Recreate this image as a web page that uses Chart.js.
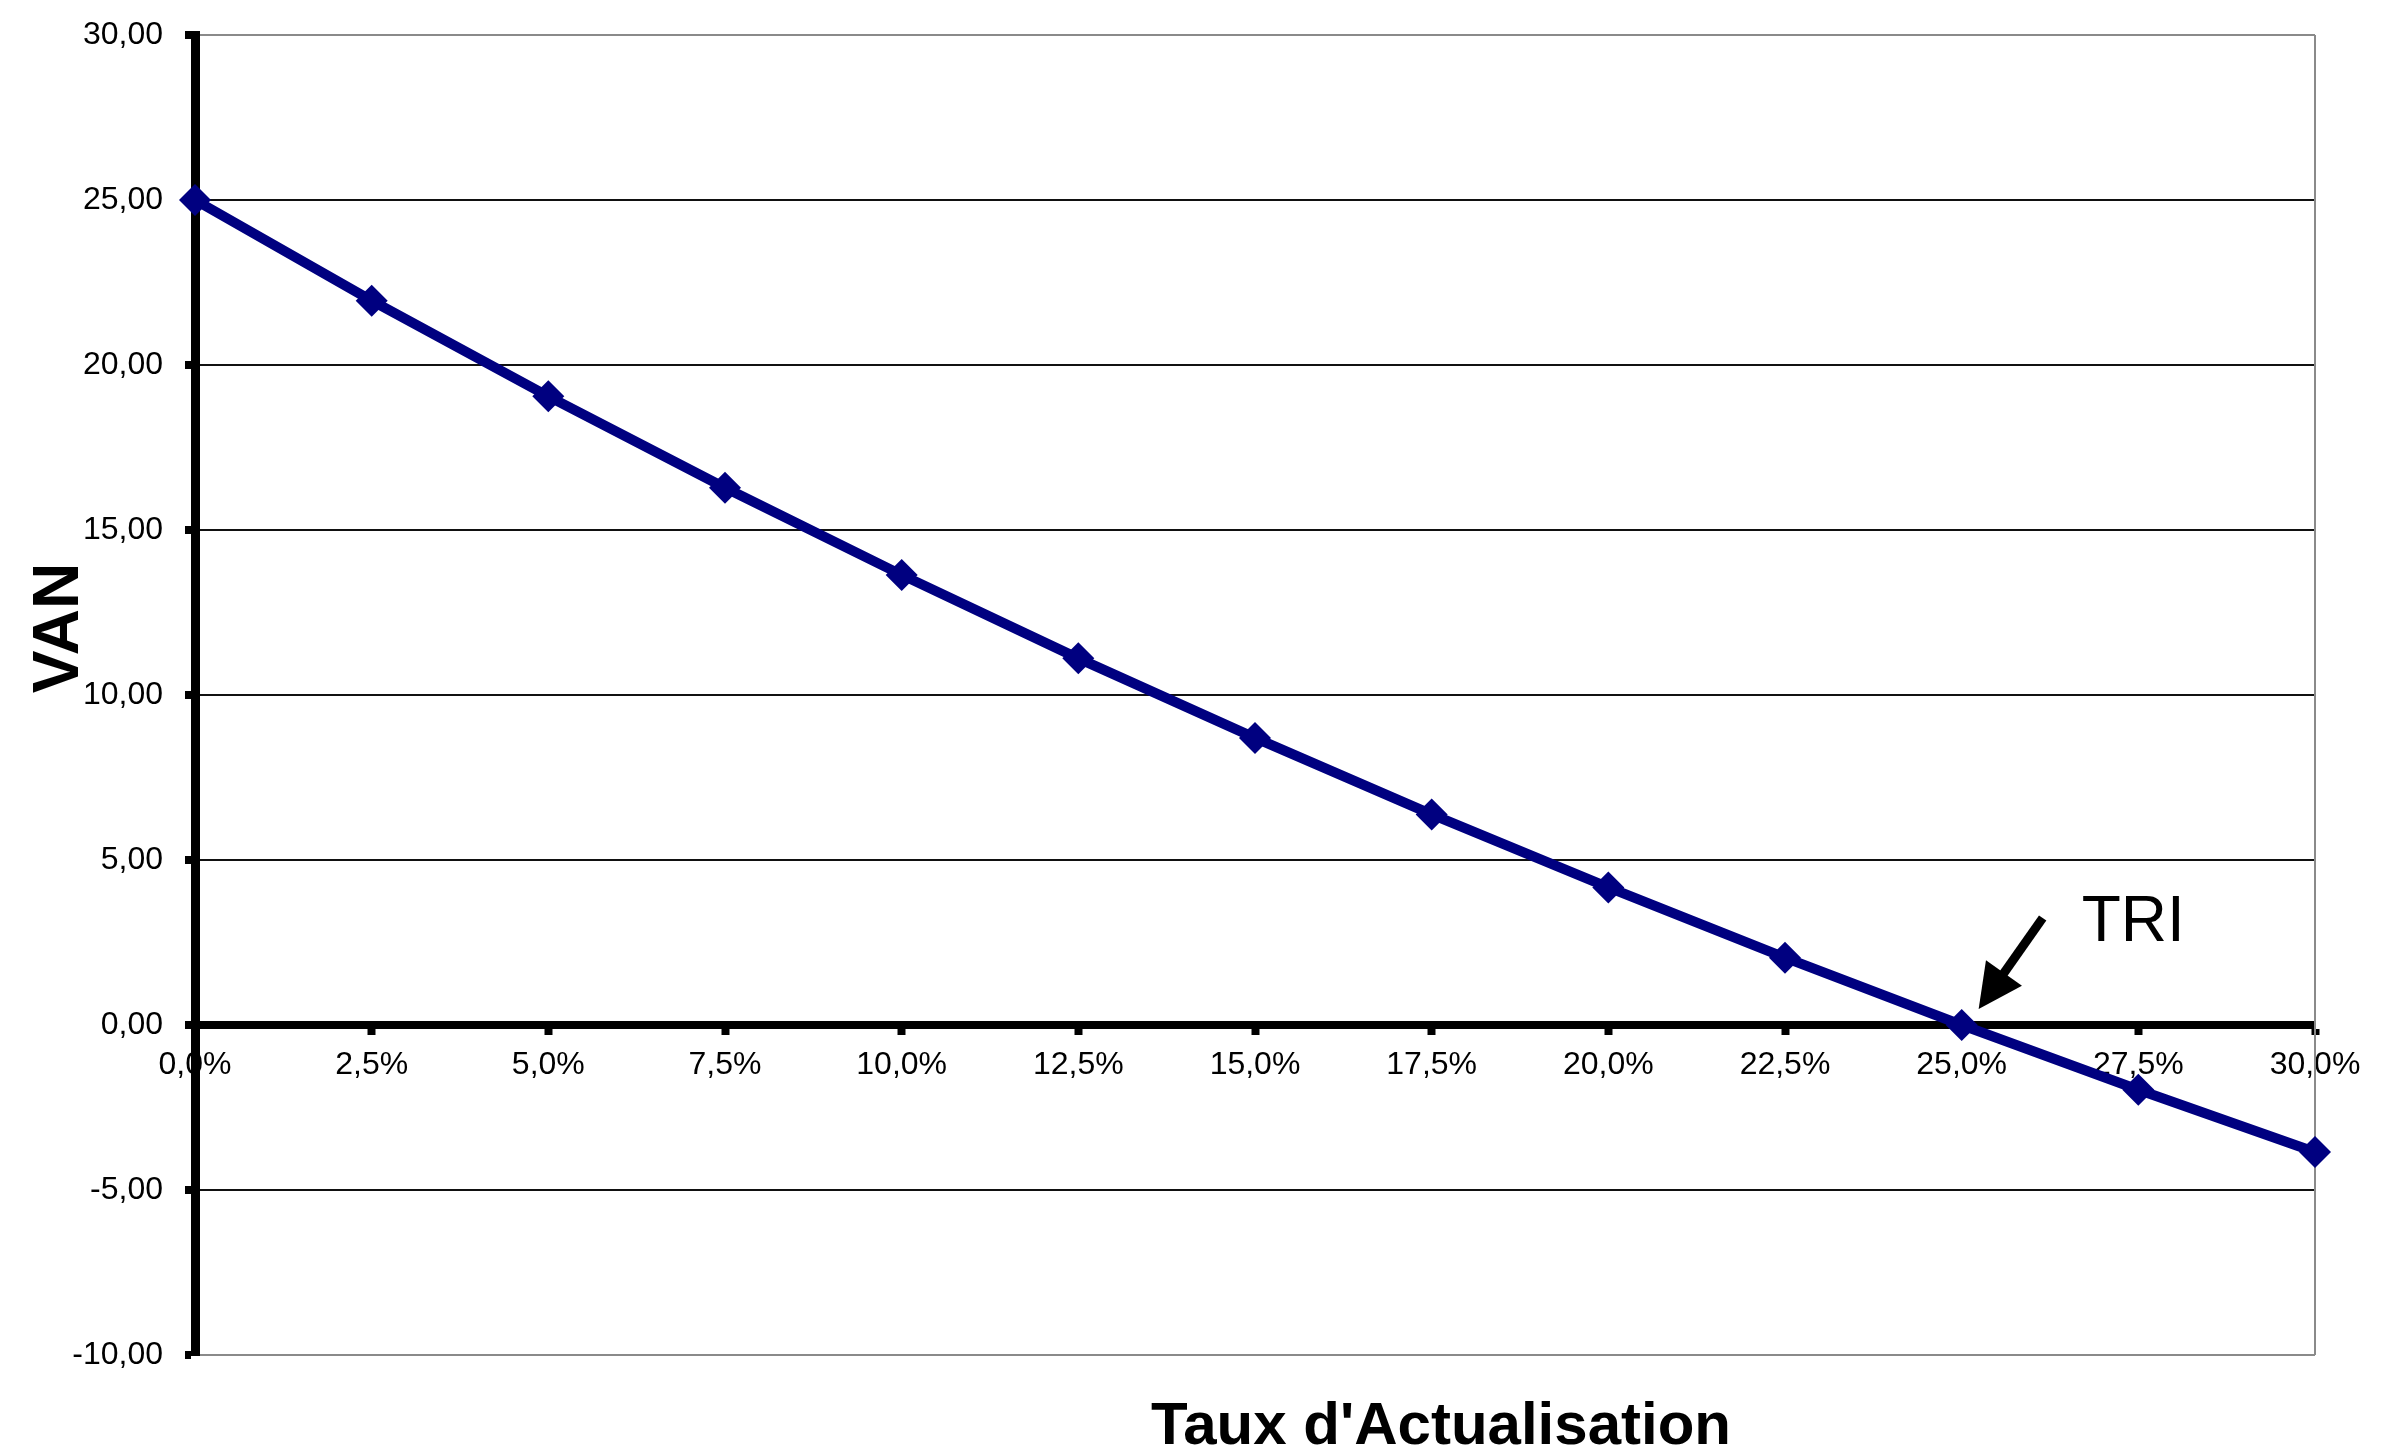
<!DOCTYPE html>
<html>
<head>
<meta charset="utf-8">
<script src="https://cdn.jsdelivr.net/npm/chart.js@4/dist/chart.umd.min.js"></script>
<style>
  html, body { margin: 0; padding: 0; background: #ffffff; }
  #wrap { width: 2387px; height: 1453px; }
</style>
</head>
<body>
<div id="wrap"><canvas id="chart"></canvas></div>
<script>
// Discount rates (category axis) and the matching net present values
const rateLabels = ['0,0%', '2,5%', '5,0%', '7,5%', '10,0%', '12,5%', '15,0%',
                    '17,5%', '20,0%', '22,5%', '25,0%', '27,5%', '30,0%'];
const vanValues = [25.00, 21.95, 19.05, 16.28, 13.64, 11.11, 8.70,
                   6.38, 4.17, 2.04, 0.00, -1.96, -3.85];

// Value axis range and step
const yMin = -10;
const yMax = 30;
const yStep = 5;

// Texts
const yTitle = 'VAN';
const xTitle = "Taux d'Actualisation";
const triText = 'TRI';
const triIndex = 10;   // the rate where the VAN crosses zero

const FONT = '"Liberation Sans", Arial, sans-serif';
const NAVY = '#000080';

// Axis titles, the grey plot frame on the right and the TRI callout
const decorations = {
  id: 'decorations',
  beforeDatasetsDraw(chart) {
    const { ctx, chartArea } = chart;
    ctx.save();
    ctx.strokeStyle = '#8a8a8a';
    ctx.lineWidth = 2;
    ctx.beginPath();
    ctx.moveTo(chartArea.right, chartArea.top);
    ctx.lineTo(chartArea.right, chartArea.bottom);
    ctx.stroke();
    ctx.restore();
  },
  afterDraw(chart) {
    const { ctx, scales } = chart;
    ctx.save();
    ctx.fillStyle = '#000';

    // Y title, rotated
    ctx.font = 'bold 64px ' + FONT;
    ctx.textAlign = 'center';
    ctx.textBaseline = 'middle';
    ctx.translate(60, 628);
    ctx.rotate(-Math.PI / 2);
    ctx.fillText(yTitle, 0, 0);
    ctx.setTransform(1, 0, 0, 1, 0, 0);

    // X title
    ctx.font = 'bold 60px ' + FONT;
    ctx.textAlign = 'center';
    ctx.textBaseline = 'alphabetic';
    ctx.fillText(xTitle, 1441, 1444);

    // TRI callout anchored on the zero crossing point
    const px = scales.x.getPixelForValue(triIndex);
    const py = scales.y.getPixelForValue(vanValues[triIndex]);
    const tipX = px + 17, tipY = py - 16;
    const tailX = px + 81, tailY = py - 107;
    const dx = tipX - tailX, dy = tipY - tailY;
    const len = Math.hypot(dx, dy);
    const ux = dx / len, uy = dy / len;
    const headLen = 44, headHalf = 22;
    const bx = tipX - ux * headLen, by = tipY - uy * headLen;

    ctx.strokeStyle = '#000';
    ctx.lineWidth = 9;
    ctx.lineCap = 'butt';
    ctx.beginPath();
    ctx.moveTo(tailX, tailY);
    ctx.lineTo(bx + ux * 2, by + uy * 2);
    ctx.stroke();

    ctx.beginPath();
    ctx.moveTo(tipX, tipY);
    ctx.lineTo(bx - uy * headHalf, by + ux * headHalf);
    ctx.lineTo(bx + uy * headHalf, by - ux * headHalf);
    ctx.closePath();
    ctx.fill();

    ctx.font = '64px ' + FONT;
    ctx.textAlign = 'left';
    ctx.textBaseline = 'alphabetic';
    ctx.fillText(triText, px + 120, py - 84);
    ctx.restore();
  }
};

new Chart(document.getElementById('chart'), {
  type: 'line',
  data: {
    labels: rateLabels,
    datasets: [{
      data: vanValues,
      borderColor: NAVY,
      backgroundColor: NAVY,
      borderWidth: 10,
      pointStyle: 'rectRot',
      pointRadius: 16,
      pointBorderWidth: 0,
      pointBackgroundColor: NAVY,
      tension: 0,
      clip: false
    }]
  },
  options: {
    responsive: true,
    maintainAspectRatio: false,
    animation: false,
    devicePixelRatio: 1,
    layout: { padding: { left: 0, right: 72, top: 35, bottom: 98 } },
    plugins: { legend: { display: false }, tooltip: { enabled: false } },
    scales: {
      y: {
        type: 'linear',
        position: 'left',
        min: yMin,
        max: yMax,
        afterFit(scale) {
          scale.width = 195;
          scale.paddingTop = 0;
          scale.paddingBottom = 0;
        },
        ticks: {
          stepSize: yStep,
          padding: 22,
          color: '#000',
          font: { family: FONT, size: 32 },
          callback: (v) => v.toFixed(2).replace('.', ',')
        },
        grid: {
          color: (c) => (c.tick && (c.tick.value === yMax || c.tick.value === yMin)) ? '#8a8a8a' : '#111',
          lineWidth: 2,
          drawTicks: true,
          tickLength: 10,
          tickWidth: 8,
          tickColor: '#000'
        },
        border: { display: true, color: '#000', width: 9, z: 0 }
      },
      x: {
        type: 'category',
        position: { y: 0 },
        offset: false,
        ticks: {
          padding: 15,
          color: '#000',
          autoSkip: false,
          maxRotation: 0,
          font: { family: FONT, size: 32 },
          z: -1
        },
        grid: {
          drawOnChartArea: false,
          drawTicks: true,
          tickLength: 6,
          tickWidth: 8,
          tickColor: '#000',
          offset: false
        },
        border: { display: true, color: '#000', width: 8 }
      }
    }
  },
  plugins: [decorations]
});
</script>
</body>
</html>
